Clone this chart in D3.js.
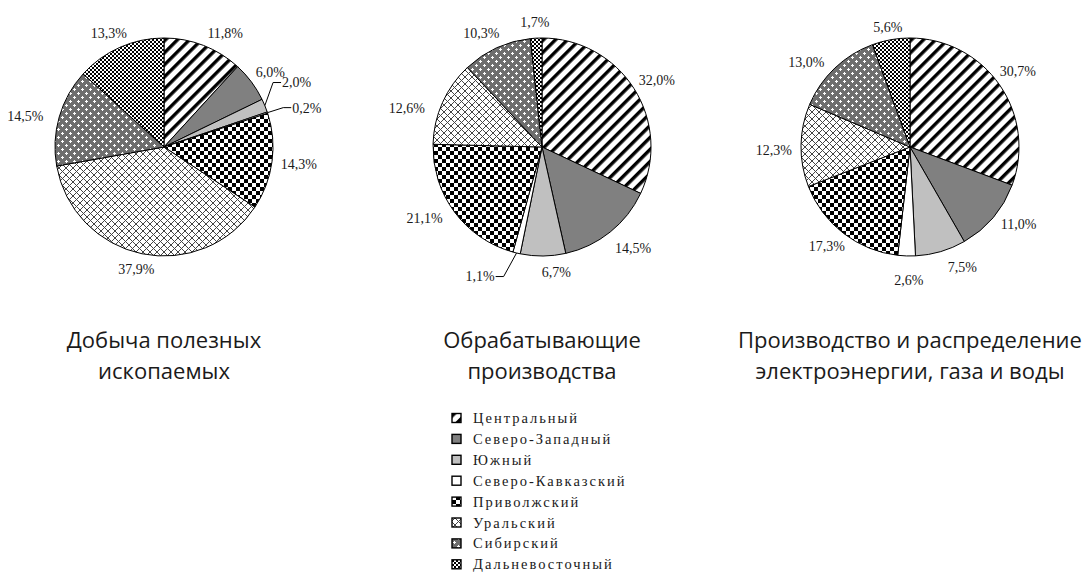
<!DOCTYPE html>
<html><head><meta charset="utf-8">
<script src="https://cdn.jsdelivr.net/npm/d3@7"></script>
<style>body{margin:0;background:#fff}</style></head><body>
<svg id="c" width="1084" height="575"></svg>
<script>
// ---- data ----
const districts = ["Центральный","Северо-Западный","Южный","Северо-Кавказский","Приволжский","Уральский","Сибирский","Дальневосточный"];
const mining = [11.8, 6.0, 2.0, 0.2, 14.3, 37.9, 14.5, 13.3];
const manufacturing = [32.0, 14.5, 6.7, 1.1, 21.1, 12.6, 10.3, 1.7];
const utilities = [30.7, 11.0, 7.5, 2.6, 17.3, 12.3, 13.0, 5.6];
const titleLines = [["Добыча полезных","ископаемых"],["Обрабатывающие","производства"],["Производство и распределение","электроэнергии, газа и воды"]];

// ---- layout ----
const series = [mining, manufacturing, utilities];
const centersX = [164, 542, 910];
const cy = 147, R = 109;
const labelR = 118;
// label adjustments (relative offsets, like manual placement in the original)
const labelNudge = {"0-0":[12,3],"0-2":[10,-17],"0-3":[17,0],"0-6":[-8,4],
  "1-1":[6,4],"1-2":[13,0],"1-3":[-31,8],"1-4":[-8,-3],"1-5":[-11,12],"1-6":[-4,0],
  "2-0":[-4,-5],"2-1":[5,-4],"2-2":[15,0],"2-3":[3,8],"2-5":[0,5],"2-6":[-10,6],"2-7":[1,3]};
const leaderSlices = new Set(["0-2","0-3","1-3"]);

const svg = d3.select("#c");
const defs = svg.append("defs");

function pat(id, w, h, transform){
  const p = defs.append("pattern").attr("id", id).attr("patternUnits","userSpaceOnUse")
    .attr("width", w).attr("height", h);
  if (transform) p.attr("patternTransform", transform);
  p.append("rect").attr("width", w).attr("height", h).attr("fill", "#fff");
  return p;
}
// Центральный: diagonal stripes
pat("p0", 8.5, 8.5, "rotate(45)").append("rect").attr("width", 3.4).attr("height", 8.5).attr("fill", "#000");
// Северо-Западный
pat("p1", 4, 4).select("rect").attr("fill", "#808080");
// Южный
pat("p2", 4, 4).select("rect").attr("fill", "#c0c0c0");
// Северо-Кавказский
pat("p3", 4, 4);
// Приволжский: large checker
{ const p = pat("p4", 8, 8);
  p.append("rect").attr("x",0).attr("y",0).attr("width",4).attr("height",4).attr("fill","#000");
  p.append("rect").attr("x",4).attr("y",4).attr("width",4).attr("height",4).attr("fill","#000"); }
// Уральский: diagonal crosshatch
{ const p = pat("p5", 7, 7);
  p.append("path").attr("d","M0,0L7,7M7,0L0,7M-1,6L1,8M6,-1L8,1M-1,1L1,-1M6,8L8,6")
   .attr("stroke","#444").attr("stroke-width",1).attr("fill","none"); }
// Сибирский: dark gray with white crosses
{ const p = pat("p6", 8, 8);
  p.select("rect").attr("fill", "#6e6e6e");
  [[2,2],[6,6]].forEach(([x,y])=>{
    p.append("rect").attr("x",x-1).attr("y",y).attr("width",3).attr("height",1).attr("fill","#fff");
    p.append("rect").attr("x",x).attr("y",y-1).attr("width",1).attr("height",3).attr("fill","#fff");
  }); }
// Дальневосточный: fine checker
{ const p = pat("p7", 4, 4);
  p.append("rect").attr("x",0).attr("y",0).attr("width",2).attr("height",2).attr("fill","#000");
  p.append("rect").attr("x",2).attr("y",2).attr("width",2).attr("height",2).attr("fill","#000"); }

const fillOf = i => `url(#p${i})`;
const fmt = v => d3.format(".1f")(v).replace(".", ",") + "%";

const pie = d3.pie().sort(null).value(d => d);
const arc = d3.arc().innerRadius(0).outerRadius(R);

series.forEach((vals, si) => {
  const cx = centersX[si];
  const g = svg.append("g").attr("transform", `translate(${cx},${cy})`);
  const arcs = pie(vals);
  g.selectAll("path.slice").data(arcs).join("path")
    .attr("class","slice")
    .attr("d", arc)
    .attr("fill", (d,i) => fillOf(i))
    .attr("stroke", "#000").attr("stroke-width", 1).attr("stroke-linejoin","round");

  arcs.forEach((a, i) => {
    const key = si + "-" + i;
    const m = (a.startAngle + a.endAngle) / 2;
    const sx = Math.sin(m), sy = -Math.cos(m);
    const t = g.append("text").text(fmt(a.data))
      .attr("font-family","'Liberation Serif','Times New Roman',serif")
      .attr("font-size", 14).attr("fill", "#1a1a1a")
      .attr("text-anchor","middle").attr("dy","0.35em");
    const w = t.node().getComputedTextLength(), h = 14;
    let lx = labelR * sx + sx * w / 2, ly = labelR * sy + sy * h / 2;
    const n = labelNudge[key];
    if (n) { lx += n[0]; ly += n[1]; }
    t.attr("x", lx).attr("y", ly);
    if (leaderSlices.has(key)) {
      const ax = R * sx, ay = R * sy;
      const right = lx > ax;
      const ex = right ? lx - w/2 - 1 : lx + w/2 + 1;
      const bx = right ? ex - 8 : ex + 8;
      g.append("path").attr("d", `M${ax},${ay}L${bx},${ly}L${ex},${ly}`)
        .attr("fill","none").attr("stroke","#000").attr("stroke-width",1);
    }
  });

  // title
  const tt = svg.append("text").attr("x", cx).attr("text-anchor","middle")
    .attr("font-family","'Open Sans','Noto Sans',sans-serif").attr("font-size", 22).attr("fill","#1a1a1a");
  titleLines[si].forEach((ln, k) => {
    tt.append("tspan").attr("x", cx).attr("y", 348 + k * 31).text(ln);
  });
});

// legend
const legX = 452, legY = 418, legStep = 20.9;
const leg = svg.append("g");
districts.forEach((d, i) => {
  const y = legY + i * legStep;
  leg.append("rect").attr("x", legX).attr("y", y - 4.5).attr("width", 9).attr("height", 9)
    .attr("fill", fillOf(i)).attr("stroke","#000").attr("stroke-width",1.4);
  leg.append("text").attr("x", legX + 21).attr("y", y).attr("dy","0.35em")
    .attr("font-family","'Liberation Serif','Times New Roman',serif").attr("font-size", 14.5)
    .attr("letter-spacing", "2px").attr("fill","#1a1a1a").text(d);
});
</script>
</body></html>
